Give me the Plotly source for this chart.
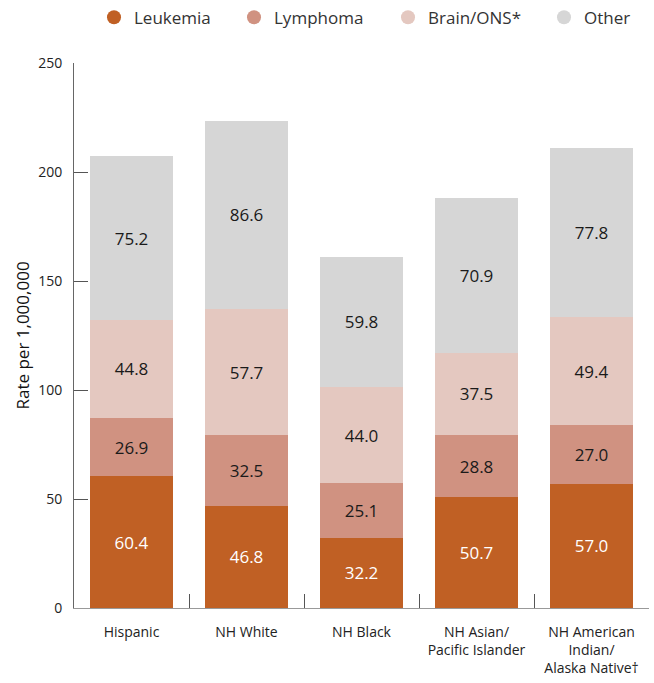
import plotly.graph_objects as go

# Childhood cancer incidence by race/ethnicity, stacked by cancer type
groups = ["Hispanic", "NH White", "NH Black", "NH Asian/<br>Pacific Islander",
          "NH American<br>Indian/<br>Alaska Native†"]
leukemia = [60.4, 46.8, 32.2, 50.7, 57.0]
lymphoma = [26.9, 32.5, 25.1, 28.8, 27.0]
brain_ons = [44.8, 57.7, 44.0, 37.5, 49.4]
other = [75.2, 86.6, 59.8, 70.9, 77.8]

series = [
    ("Leukemia", leukemia, "#C06024", "white"),
    ("Lymphoma", lymphoma, "#D09281", "#1a1a1a"),
    ("Brain/ONS*", brain_ons, "#E4C8C0", "#1a1a1a"),
    ("Other", other, "#D6D6D6", "#1a1a1a"),
]

# left edge (px) of each legend entry along the top row
legend_left_px = [94, 234, 388, 544]

FONT = "Open Sans"
W, H = 654, 683

fig = go.Figure()
legend_layouts = {}
for i, (name, vals, color, txtcol) in enumerate(series):
    fig.add_trace(go.Bar(
        x=groups, y=vals, name=name, marker=dict(color=color, line=dict(width=0)),
        text=[f"{v:.1f}" for v in vals], textposition="inside",
        insidetextanchor="middle", constraintext="none",
        textfont=dict(family=FONT, size=17, color=txtcol),
        showlegend=False, hoverinfo="skip",
    ))
    # circular legend swatch, one legend box per entry
    lg = "legend" if i == 0 else f"legend{i + 1}"
    fig.add_trace(go.Scatter(
        x=[None], y=[None], mode="markers", name=name, legend=lg,
        marker=dict(symbol="circle", size=14, color=color),
    ))
    legend_layouts[lg] = dict(
        orientation="h", xref="container", x=legend_left_px[i] / W, xanchor="left",
        y=1.083, yanchor="middle", font=dict(family=FONT, size=17, color="#333"),
        itemclick=False, bgcolor="rgba(0,0,0,0)",
    )

fig.update_layout(
    barmode="stack",
    bargap=0.28,
    width=W, height=H,
    margin=dict(l=74, r=5, t=63, b=75, autoexpand=False),
    paper_bgcolor="white", plot_bgcolor="white",
    font=dict(family=FONT, size=14, color="#222"),
    showlegend=True,
    **legend_layouts,
)
fig.update_xaxes(
    type="category", range=[-0.5, 4.5], showline=True, linecolor="#999", linewidth=1,
    ticks="inside", tickson="boundaries", ticklen=14, tickcolor="#555",
    tickfont=dict(family=FONT, size=14, color="#222"), ticklabelstandoff=11,
    showgrid=False, zeroline=False, automargin=False,
)
fig.update_yaxes(
    range=[0, 250], tickvals=[0, 50, 100, 150, 200, 250], showline=True,
    linecolor="#666", linewidth=1, ticks="inside", ticklen=14, tickcolor="#555",
    tickfont=dict(family=FONT, size=14, color="#222"), ticklabelstandoff=8,
    showgrid=False, zeroline=False, automargin=False,
)
# vertical axis title
fig.add_annotation(
    text="Rate per 1,000,000", textangle=-90, xref="paper", yref="paper",
    x=0, y=0.5, xanchor="center", yanchor="middle", xshift=-52, showarrow=False,
    font=dict(family=FONT, size=17, color="#111"),
)

fig.write_html("out.html")
